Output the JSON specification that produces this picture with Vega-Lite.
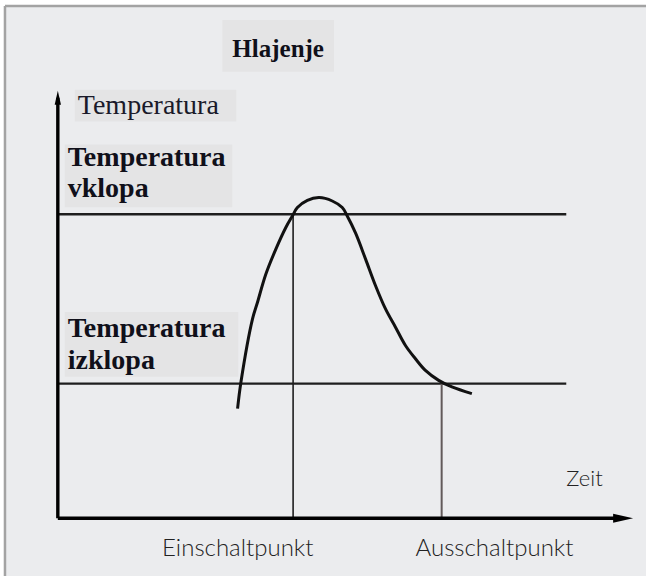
{
  "$schema": "https://vega.github.io/schema/vega-lite/v6.json",
  "width": 648,
  "height": 578,
  "autosize": {"type": "fit", "contains": "padding"},
  "padding": 0,
  "background": "#ffffff",
  "config": {"view": {"stroke": null}},
  "datasets": {
    "frame": [{"t": -9.14, "t2": 101.72, "T": -13.49, "T2": 119.53}],
    "frameLines": [
      {"t": -9.14, "t2": -9.14, "T": -13.49, "T2": 119.53},
      {"t": -9.14, "t2": 101.72, "T": 119.53, "T2": 119.53}
    ],
    "boxes": [
      {"name": "title", "t": 28.45, "t2": 47.76, "T": 104.19, "T2": 116.28},
      {"name": "Temperatura", "t": 2.93, "t2": 30.86, "T": 92.56, "T2": 100.0},
      {"name": "vklopa", "t": 1.21, "t2": 30.17, "T": 72.56, "T2": 87.21},
      {"name": "izklopa", "t": 1.21, "t2": 31.21, "T": 33.02, "T2": 48.14}
    ],
    "levels": [
      {"level": "Temperatura vklopa", "t": 0, "t2": 87.93, "T": 70.93},
      {"level": "Temperatura izklopa", "t": 0, "t2": 87.93, "T": 31.4}
    ],
    "onLine": [{"t": 40.69, "T": 0, "T2": 70.93}],
    "offLine": [{"t": 66.38, "T": 0, "T2": 31.4}],
    "axes": [
      {"axis": "y", "t": 0, "t2": 0, "T": 0, "T2": 98.14},
      {"axis": "x", "t": 0, "t2": 96.9, "T": 0, "T2": 0}
    ],
    "arrowUp": [{"t": 0, "T": 98.14}],
    "arrowRight": [{"t": 97.76, "T": 0}],
    "curve": [
      {"t": 31.086, "T": 25.581},
      {"t": 31.672, "T": 31.791},
      {"t": 33.672, "T": 46.512},
      {"t": 34.534, "T": 50.395},
      {"t": 35.983, "T": 56.977},
      {"t": 37.707, "T": 62.791},
      {"t": 39.431, "T": 67.837},
      {"t": 40.569, "T": 70.535},
      {"t": 41.431, "T": 72.488},
      {"t": 43.155, "T": 74.186},
      {"t": 45.172, "T": 74.814},
      {"t": 47.466, "T": 74.023},
      {"t": 49.19, "T": 72.488},
      {"t": 50.052, "T": 70.535},
      {"t": 51.5, "T": 66.512},
      {"t": 53.224, "T": 60.465},
      {"t": 54.948, "T": 54.256},
      {"t": 56.672, "T": 48.837},
      {"t": 58.397, "T": 44.581},
      {"t": 60.121, "T": 40.302},
      {"t": 61.845, "T": 37.209},
      {"t": 63.569, "T": 34.488},
      {"t": 65.862, "T": 32.163},
      {"t": 68.155, "T": 30.628},
      {"t": 71.603, "T": 29.07}
    ],
    "yLabel": [{"label": "Temperatura", "t": 3.45, "T": 94.42}],
    "titleText": [{"label": "Hlajenje", "t": 38.1, "T": 107.67}],
    "levelLabels": [
      {"label": "Temperatura", "t": 1.72, "T": 82.09},
      {"label": "vklopa", "t": 1.72, "T": 74.88},
      {"label": "Temperatura", "t": 1.72, "T": 42.33},
      {"label": "izklopa", "t": 1.72, "T": 34.88}
    ],
    "xLabel": [{"label": "Zeit", "t": 87.93, "T": 7.44}],
    "pointLabels": [
      {"label": "Einschaltpunkt", "t": 31.12, "T": -8.84},
      {"label": "Ausschaltpunkt", "t": 75.52, "T": -8.84}
    ]
  },
  "layer": [
    {
      "data": {"name": "frame"},
      "mark": {"type": "rect", "fill": "#ebecee"},
      "encoding": {
        "x": {"field": "t", "type": "quantitative", "scale": {"domain": [-10, 101.72], "nice": false, "zero": false}, "axis": null},
        "x2": {"field": "t2"},
        "y": {"field": "T", "type": "quantitative", "scale": {"domain": [-13.49, 120.93], "nice": false, "zero": false}, "axis": null},
        "y2": {"field": "T2"}
      }
    },
    {
      "data": {"name": "boxes"},
      "mark": {"type": "rect", "fill": "#e4e4e5"},
      "encoding": {
        "x": {"field": "t", "type": "quantitative", "scale": {"domain": [-10, 101.72], "nice": false, "zero": false}, "axis": null},
        "x2": {"field": "t2"},
        "y": {"field": "T", "type": "quantitative", "scale": {"domain": [-13.49, 120.93], "nice": false, "zero": false}, "axis": null},
        "y2": {"field": "T2"}
      }
    },
    {
      "data": {"name": "frameLines"},
      "mark": {"type": "rule", "color": "#a3a3a3", "strokeWidth": 2.5},
      "encoding": {
        "x": {"field": "t", "type": "quantitative", "scale": {"domain": [-10, 101.72], "nice": false, "zero": false}, "axis": null},
        "x2": {"field": "t2"},
        "y": {"field": "T", "type": "quantitative", "scale": {"domain": [-13.49, 120.93], "nice": false, "zero": false}, "axis": null},
        "y2": {"field": "T2"}
      }
    },
    {
      "data": {"name": "levels"},
      "mark": {"type": "rule", "color": "#1e1e1e", "strokeWidth": 2.3},
      "encoding": {
        "x": {"field": "t", "type": "quantitative", "scale": {"domain": [-10, 101.72], "nice": false, "zero": false}, "axis": null},
        "x2": {"field": "t2"},
        "y": {"field": "T", "type": "quantitative", "scale": {"domain": [-13.49, 120.93], "nice": false, "zero": false}, "axis": null}
      }
    },
    {
      "data": {"name": "onLine"},
      "mark": {"type": "rule", "color": "#1e1e1e", "strokeWidth": 1.6},
      "encoding": {
        "x": {"field": "t", "type": "quantitative", "scale": {"domain": [-10, 101.72], "nice": false, "zero": false}, "axis": null},
        "y": {"field": "T", "type": "quantitative", "scale": {"domain": [-13.49, 120.93], "nice": false, "zero": false}, "axis": null},
        "y2": {"field": "T2"}
      }
    },
    {
      "data": {"name": "offLine"},
      "mark": {"type": "rule", "color": "#625a5a", "strokeWidth": 2},
      "encoding": {
        "x": {"field": "t", "type": "quantitative", "scale": {"domain": [-10, 101.72], "nice": false, "zero": false}, "axis": null},
        "y": {"field": "T", "type": "quantitative", "scale": {"domain": [-13.49, 120.93], "nice": false, "zero": false}, "axis": null},
        "y2": {"field": "T2"}
      }
    },
    {
      "data": {"name": "axes"},
      "mark": {"type": "rule", "color": "#000000", "strokeWidth": 3.4},
      "encoding": {
        "x": {"field": "t", "type": "quantitative", "scale": {"domain": [-10, 101.72], "nice": false, "zero": false}, "axis": null},
        "x2": {"field": "t2"},
        "y": {"field": "T", "type": "quantitative", "scale": {"domain": [-13.49, 120.93], "nice": false, "zero": false}, "axis": null},
        "y2": {"field": "T2"}
      }
    },
    {
      "data": {"name": "arrowUp"},
      "mark": {"type": "point", "shape": "M0,-1L0.45,1L-0.45,1Z", "size": 196, "filled": true, "color": "#000000", "opacity": 1},
      "encoding": {
        "x": {"field": "t", "type": "quantitative", "scale": {"domain": [-10, 101.72], "nice": false, "zero": false}, "axis": null},
        "y": {"field": "T", "type": "quantitative", "scale": {"domain": [-13.49, 120.93], "nice": false, "zero": false}, "axis": null}
      }
    },
    {
      "data": {"name": "arrowRight"},
      "mark": {"type": "point", "shape": "M1,0L-1,-0.45L-1,0.45Z", "size": 400, "filled": true, "color": "#000000", "opacity": 1},
      "encoding": {
        "x": {"field": "t", "type": "quantitative", "scale": {"domain": [-10, 101.72], "nice": false, "zero": false}, "axis": null},
        "y": {"field": "T", "type": "quantitative", "scale": {"domain": [-13.49, 120.93], "nice": false, "zero": false}, "axis": null}
      }
    },
    {
      "data": {"name": "curve"},
      "mark": {"type": "line", "color": "#111111", "strokeWidth": 3, "interpolate": "catmull-rom"},
      "encoding": {
        "x": {"field": "t", "type": "quantitative", "scale": {"domain": [-10, 101.72], "nice": false, "zero": false}, "axis": null},
        "y": {"field": "T", "type": "quantitative", "scale": {"domain": [-13.49, 120.93], "nice": false, "zero": false}, "axis": null}
      }
    },
    {
      "data": {"name": "yLabel"},
      "mark": {"type": "text", "font": "Liberation Serif", "fontSize": 28, "align": "left", "baseline": "alphabetic", "color": "#1a1a2a"},
      "encoding": {
        "x": {"field": "t", "type": "quantitative", "scale": {"domain": [-10, 101.72], "nice": false, "zero": false}, "axis": null},
        "y": {"field": "T", "type": "quantitative", "scale": {"domain": [-13.49, 120.93], "nice": false, "zero": false}, "axis": null},
        "text": {"field": "label"}
      }
    },
    {
      "data": {"name": "titleText"},
      "mark": {"type": "text", "font": "Liberation Serif", "fontWeight": "bold", "fontSize": 25, "align": "center", "baseline": "alphabetic", "color": "#10101a"},
      "encoding": {
        "x": {"field": "t", "type": "quantitative", "scale": {"domain": [-10, 101.72], "nice": false, "zero": false}, "axis": null},
        "y": {"field": "T", "type": "quantitative", "scale": {"domain": [-13.49, 120.93], "nice": false, "zero": false}, "axis": null},
        "text": {"field": "label"}
      }
    },
    {
      "data": {"name": "levelLabels"},
      "mark": {"type": "text", "font": "Liberation Serif", "fontWeight": "bold", "fontSize": 28, "align": "left", "baseline": "alphabetic", "color": "#10101a"},
      "encoding": {
        "x": {"field": "t", "type": "quantitative", "scale": {"domain": [-10, 101.72], "nice": false, "zero": false}, "axis": null},
        "y": {"field": "T", "type": "quantitative", "scale": {"domain": [-13.49, 120.93], "nice": false, "zero": false}, "axis": null},
        "text": {"field": "label"}
      }
    },
    {
      "data": {"name": "xLabel"},
      "mark": {"type": "text", "font": "Lato", "fontWeight": 300, "fontSize": 22, "align": "left", "baseline": "alphabetic", "color": "#222222"},
      "encoding": {
        "x": {"field": "t", "type": "quantitative", "scale": {"domain": [-10, 101.72], "nice": false, "zero": false}, "axis": null},
        "y": {"field": "T", "type": "quantitative", "scale": {"domain": [-13.49, 120.93], "nice": false, "zero": false}, "axis": null},
        "text": {"field": "label"}
      }
    },
    {
      "data": {"name": "pointLabels"},
      "mark": {"type": "text", "font": "Lato", "fontWeight": 300, "fontSize": 24, "align": "center", "baseline": "alphabetic", "color": "#222222"},
      "encoding": {
        "x": {"field": "t", "type": "quantitative", "scale": {"domain": [-10, 101.72], "nice": false, "zero": false}, "axis": null},
        "y": {"field": "T", "type": "quantitative", "scale": {"domain": [-13.49, 120.93], "nice": false, "zero": false}, "axis": null},
        "text": {"field": "label"}
      }
    }
  ]
}
